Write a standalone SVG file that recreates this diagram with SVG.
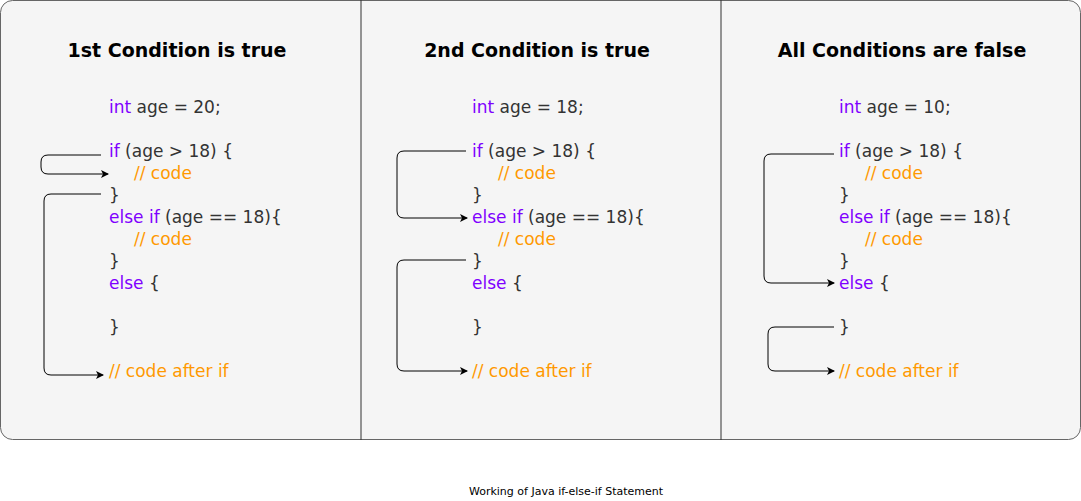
<svg xmlns="http://www.w3.org/2000/svg" width="1081" height="501" viewBox="0 0 1081 501">
<style>
.c{font-family:"DejaVu Sans",Verdana,sans-serif;font-size:17px;fill:#333}
.k{fill:#7F00FF}.o{fill:#FF9900}
.t{font-family:"DejaVu Sans",Verdana,sans-serif;font-size:19px;font-weight:bold;text-anchor:middle;fill:#000}
.a{fill:none;stroke:#000;stroke-width:1}
</style>
<defs><marker id="m" markerWidth="8" markerHeight="8" refX="7" refY="4" orient="auto" markerUnits="userSpaceOnUse"><path d="M0,0L8,4L0,8L2,4Z" fill="#000"/></marker></defs>
<rect x="0.5" y="0.5" width="1080" height="439" rx="12" fill="#f5f5f5" stroke="#666"/>
<line x1="361" y1="0" x2="361" y2="440" stroke="#333"/>
<line x1="721" y1="0" x2="721" y2="440" stroke="#333"/>
<g id="panel1">
<text class="t" x="177" y="57">1st Condition is true</text>
<text class="c" x="109" y="113"><tspan class="k">int</tspan> age = 20;</text>
<text class="c" x="109" y="157"><tspan class="k">if</tspan> (age &gt; 18) {</text>
<text class="c o" x="134" y="179">// code</text>
<text class="c" x="109" y="201">}</text>
<text class="c" x="109" y="223"><tspan class="k">else if</tspan> (age == 18){</text>
<text class="c o" x="134" y="245">// code</text>
<text class="c" x="109" y="267">}</text>
<text class="c" x="109" y="289"><tspan class="k">else</tspan> {</text>
<text class="c" x="109" y="333">}</text>
<text class="c o" x="109" y="377">// code after if</text>
</g>
<g id="panel2">
<text class="t" x="537" y="57">2nd Condition is true</text>
<text class="c" x="472" y="113"><tspan class="k">int</tspan> age = 18;</text>
<text class="c" x="472" y="157"><tspan class="k">if</tspan> (age &gt; 18) {</text>
<text class="c o" x="498" y="179">// code</text>
<text class="c" x="472" y="201">}</text>
<text class="c" x="472" y="223"><tspan class="k">else if</tspan> (age == 18){</text>
<text class="c o" x="498" y="245">// code</text>
<text class="c" x="472" y="267">}</text>
<text class="c" x="472" y="289"><tspan class="k">else</tspan> {</text>
<text class="c" x="472" y="333">}</text>
<text class="c o" x="472" y="377">// code after if</text>
</g>
<g id="panel3">
<text class="t" x="902" y="57">All Conditions are false</text>
<text class="c" x="839" y="113"><tspan class="k">int</tspan> age = 10;</text>
<text class="c" x="839" y="157"><tspan class="k">if</tspan> (age &gt; 18) {</text>
<text class="c o" x="865" y="179">// code</text>
<text class="c" x="839" y="201">}</text>
<text class="c" x="839" y="223"><tspan class="k">else if</tspan> (age == 18){</text>
<text class="c o" x="865" y="245">// code</text>
<text class="c" x="839" y="267">}</text>
<text class="c" x="839" y="289"><tspan class="k">else</tspan> {</text>
<text class="c" x="839" y="333">}</text>
<text class="c o" x="839" y="377">// code after if</text>
</g>
<g id="connectors" class="a">
<path class="a" marker-end="url(#m)" d="M101,155H48Q41,155 41,162V167Q41,174 48,174H108"/>
<path class="a" marker-end="url(#m)" d="M101,194H51Q44,194 44,201V368Q44,375 51,375H103"/>
<path class="a" marker-end="url(#m)" d="M466,151H404Q397,151 397,158V211Q397,218 404,218H467"/>
<path class="a" marker-end="url(#m)" d="M466,260H404Q397,260 397,267V364Q397,371 404,371H467"/>
<path class="a" marker-end="url(#m)" d="M834,154H771Q764,154 764,161V276Q764,283 771,283H834"/>
<path class="a" marker-end="url(#m)" d="M834,327H775Q768,327 768,334V364Q768,371 775,371H834"/>
</g>
<text x="566" y="495" text-anchor="middle" style="font-family:'DejaVu Sans',Verdana,sans-serif;font-size:11px;fill:#000">Working of Java if-else-if Statement</text>
</svg>
